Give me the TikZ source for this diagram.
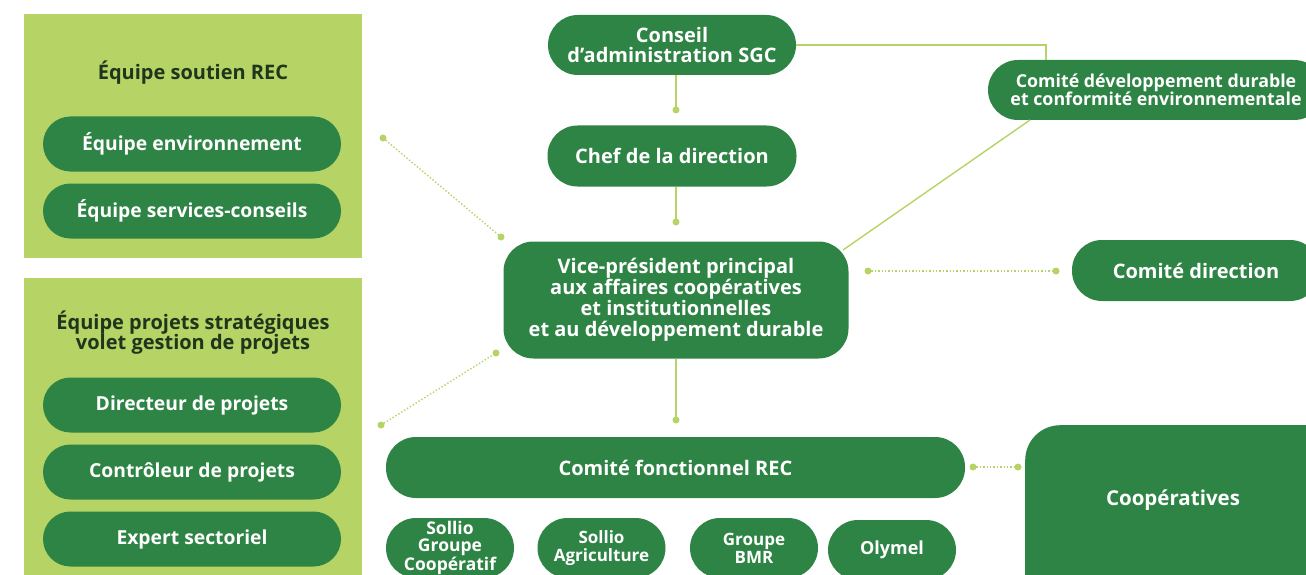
\documentclass[tikz,border=0pt]{standalone}
\usepackage{fontspec}
\setmainfont{Open Sans}
\definecolor{dg}{HTML}{2E8444}
\definecolor{lg}{HTML}{B5D465}
\definecolor{tx}{HTML}{1F351C}
\begin{document}
\begin{tikzpicture}[x=1pt,y=-1pt,
  panel/.style={fill=lg, draw=none, inner sep=0pt, anchor=north west},
  ttl/.style={text=tx, font=\bfseries\fontsize{20}{20}\selectfont, align=center, inner sep=0pt},
  pill/.style={fill=dg, draw=none, text=white, font=\bfseries\fontsize{20}{20}\selectfont, align=center, inner sep=0pt},
  smallpill/.style={pill, font=\bfseries\fontsize{17.5}{16.5}\selectfont, minimum width=128pt, minimum height=60pt, rounded corners=30pt},
  link/.style={draw=lg, line width=1.4pt},
  dlink/.style={draw=lg, line width=1.4pt, dotted},
  dotc/.style={fill=lg, draw=none}
]
\useasboundingbox (0,0) rectangle (1306,575);
\clip (0,0) rectangle (1306,575);

% left panels
\node[panel, minimum width=338pt, minimum height=244pt] (p1) at (24,14) {};
\node[panel, minimum width=338pt, minimum height=320pt] (p2) at (24,278) {};
\node[ttl] (t1) at (193,73) {Équipe soutien REC};
\node[ttl] (t2) at (193,333) {Équipe projets stratégiques\\volet gestion de projets};
\tikzset{lp/.style={pill, font=\bfseries\fontsize{19.3}{20}\selectfont, minimum width=298pt, minimum height=55pt, rounded corners=27.5pt}}
\node[lp] (e1) at (192,144) {Équipe environnement};
\node[lp] (e2) at (192,211) {Équipe services-conseils};
\node[lp] (e3) at (192,405) {Directeur de projets};
\node[lp] (e4) at (192,472) {Contrôleur de projets};
\node[lp] (e5) at (192,539) {Expert sectoriel};

% central column
\node[pill, minimum width=248pt, minimum height=60pt, rounded corners=30pt] (cons) at (672,45) {Conseil\\d’administration SGC};
\node[pill, minimum width=249pt, minimum height=61pt, rounded corners=30pt] (chef) at (672,156) {Chef de la direction};
\node[pill, minimum width=345pt, minimum height=117pt, rounded corners=30pt, font=\bfseries\fontsize{20}{21}\selectfont] (vp) at (676,300) {Vice-président principal\\aux affaires coopératives\\et institutionnelles\\et au développement durable};
\node[pill, minimum width=579pt, minimum height=61pt, rounded corners=30pt] (cf) at (675.5,467.5) {Comité fonctionnel REC};

% right column
\node[pill, minimum width=336pt, minimum height=60pt, rounded corners=30pt, font=\bfseries\fontsize{17.8}{18}\selectfont] (cdd) at (1156,90) {Comité développement durable\\et conformité environnementale};
\node[pill, minimum width=248pt, minimum height=61pt, rounded corners=30pt] (cdir) at (1196,270.5) {Comité direction};
\node[pill, minimum width=320pt, minimum height=200pt, rounded corners=35pt, anchor=north west] (coop) at (1025,425) {};
\node[text=white, font=\bfseries\fontsize{20.5}{21}\selectfont, inner sep=0pt] (cooplbl) at (1173,500) {Coopératives};

% bottom pills
\node[smallpill] (s1) at (450,548) {Sollio\\Groupe\\Coopératif};
\node[smallpill, font=\bfseries\fontsize{17}{18}\selectfont] (s2) at (601.5,548) {Sollio\\Agriculture};
\node[smallpill, font=\bfseries\fontsize{17}{18}\selectfont] (s3) at (754,548) {Groupe\\BMR};
\node[smallpill, font=\bfseries\fontsize{18}{20}\selectfont] (s4) at (892,550) {Olymel};

% connector end points
\coordinate (d1) at (676,110);
\coordinate (d2) at (676,222);
\coordinate (d3) at (676,420);
\coordinate (a1) at (383,138);
\coordinate (a2) at (501,237);
\coordinate (b1) at (381,425);
\coordinate (b2) at (496,353);
\coordinate (c1) at (868,271);
\coordinate (c2) at (1056,271);
\coordinate (f1) at (973,467);
\coordinate (f2) at (1018,467);
\coordinate (vpc) at (843,250);
\coordinate (cddc) at (1030,120);

% solid connectors
\draw[link] (cons.south -| d1) -- (d1);
\draw[link] (chef.south -| d2) -- (d2);
\draw[link] (vp.south -| d3) -- (d3);
\draw[link] (cons.east) -- (1046,45) -- (1046,60);
\draw[link] (cddc) -- (vpc);
\foreach \p in {d1,d2,d3} \fill[dotc] (\p) circle (3.5pt);

% dotted connectors
\draw[dlink] (a1) -- (a2);
\draw[dlink] (b1) -- (b2);
\draw[dlink] (c1) -- (c2);
\draw[dlink] (f1) -- (f2);
\foreach \p in {a1,a2,b1,b2,c1,c2,f1,f2} \fill[dotc] (\p) circle (3.5pt);
\end{tikzpicture}
\end{document}
